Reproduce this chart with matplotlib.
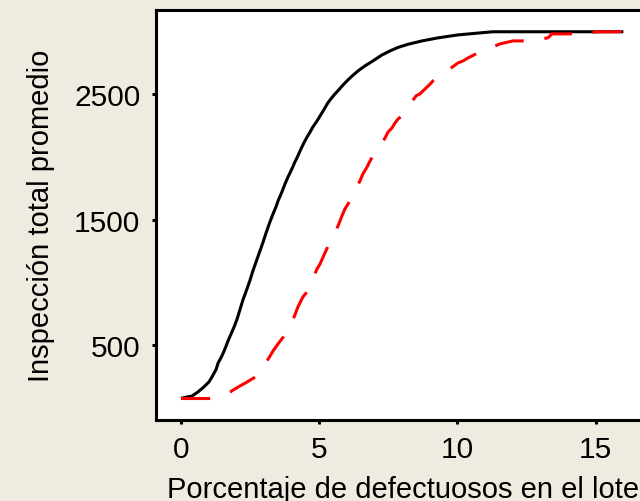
import matplotlib
matplotlib.use("Agg")
import matplotlib.pyplot as plt

# Data
p_black = [0.0, 0.40, 0.61, 0.80, 1.01, 1.12, 1.27, 1.34, 1.48, 1.59, 1.70, 1.92, 2.03,
           2.13, 2.24, 2.39, 2.50, 2.60, 2.75, 2.97, 3.07, 3.18, 3.29, 3.44, 3.51, 3.65,
           3.76, 3.87, 4.01, 4.12, 4.23, 4.34, 4.45, 4.56, 4.67, 4.77, 4.92, 5.03, 5.14,
           5.24, 5.32, 5.46, 5.57, 5.68, 5.86, 6.00, 6.18, 6.40, 6.65, 6.94, 7.27, 7.56,
           7.85, 8.21, 8.72, 9.29, 10.02, 11.28, 13.0, 16.0]
ati_black = [75, 93, 125, 160, 205, 245, 305, 355, 413, 469, 532, 644, 708,
             780, 860, 950, 1020, 1091, 1185, 1322, 1390, 1460, 1525, 1605, 1650, 1722,
             1785, 1841, 1905, 1961, 2010, 2065, 2115, 2160, 2200, 2240, 2288, 2328, 2368,
             2405, 2435, 2475, 2504, 2530, 2575, 2607, 2645, 2687, 2727, 2767, 2815, 2847,
             2875, 2900, 2927, 2951, 2975, 3000, 3000, 3000]

p_red = [0.0, 1.09, 1.77, 2.13, 2.39, 2.57, 2.75, 3.18, 3.33, 3.51, 3.73, 4.09, 4.23,
         4.41, 4.56, 4.92, 5.03, 5.14, 5.24, 5.32, 5.68, 5.82, 5.93, 6.11, 6.47, 6.58,
         6.73, 6.80, 6.94, 7.38, 7.49, 7.63, 7.74, 7.85, 7.99, 8.50, 8.64, 8.75, 8.90,
         9.01, 9.11, 9.26, 9.87, 10.02, 10.20, 10.38, 10.74, 11.54, 12.01, 12.55, 13.27,
         13.42, 14.36, 15.08, 16.0]
ati_red = [73, 73, 125, 173, 205, 229, 253, 397, 453, 509, 572, 724, 804,
           884, 924, 1107, 1147, 1203, 1251, 1290, 1450, 1530, 1586, 1650, 1809, 1865,
           1921, 1953, 2009, 2152, 2200, 2232, 2272, 2304, 2328, 2488, 2504, 2527, 2559,
           2583, 2607, 2631, 2727, 2751, 2767, 2791, 2831, 2903, 2927, 2927, 2951,
           2983, 2983, 3000, 3000]

x_ticks = [0, 5, 10, 15]
y_ticks = [500, 1500, 2500]
x_label = "Porcentaje de defectuosos en el lote"
y_label = "Inspección total promedio"

plt.rcParams['font.family'] = ['Liberation Sans', 'DejaVu Sans']
plt.rcParams['lines.scale_dashes'] = False

bg = '#EFEBE1'
fig = plt.figure(figsize=(6.4, 5.02), dpi=100, facecolor=bg)
W, H = 640, 502
left_px, right_px, top_px, bot_px = 156, 651, 10.7, 420.7
ax = fig.add_axes([left_px / W, 1 - bot_px / H, (right_px - left_px) / W, (bot_px - top_px) / H])
ax.set_facecolor('white')

lw = 2.2
ax.plot(p_black, ati_black, color='black', lw=lw, solid_capstyle='butt')
ax.plot(p_red, ati_red, color='#FF0000', lw=lw, dashes=(21, 15), dash_capstyle='butt')

ax.set_xlim(-0.904, 17.0)
ax.set_ylim(-96, 3176)
ax.set_xticks(x_ticks)
ax.set_yticks(y_ticks)
for s in ax.spines.values():
    s.set_linewidth(2.2)
ax.tick_params(direction='out', length=2.8, width=2.2, labelsize=21.5, pad=8.5)

ax.set_xlabel(x_label, fontsize=21, labelpad=8)
ax.set_ylabel(y_label, fontsize=21, labelpad=14)

fig.savefig('out.png', dpi=100, facecolor=bg)
